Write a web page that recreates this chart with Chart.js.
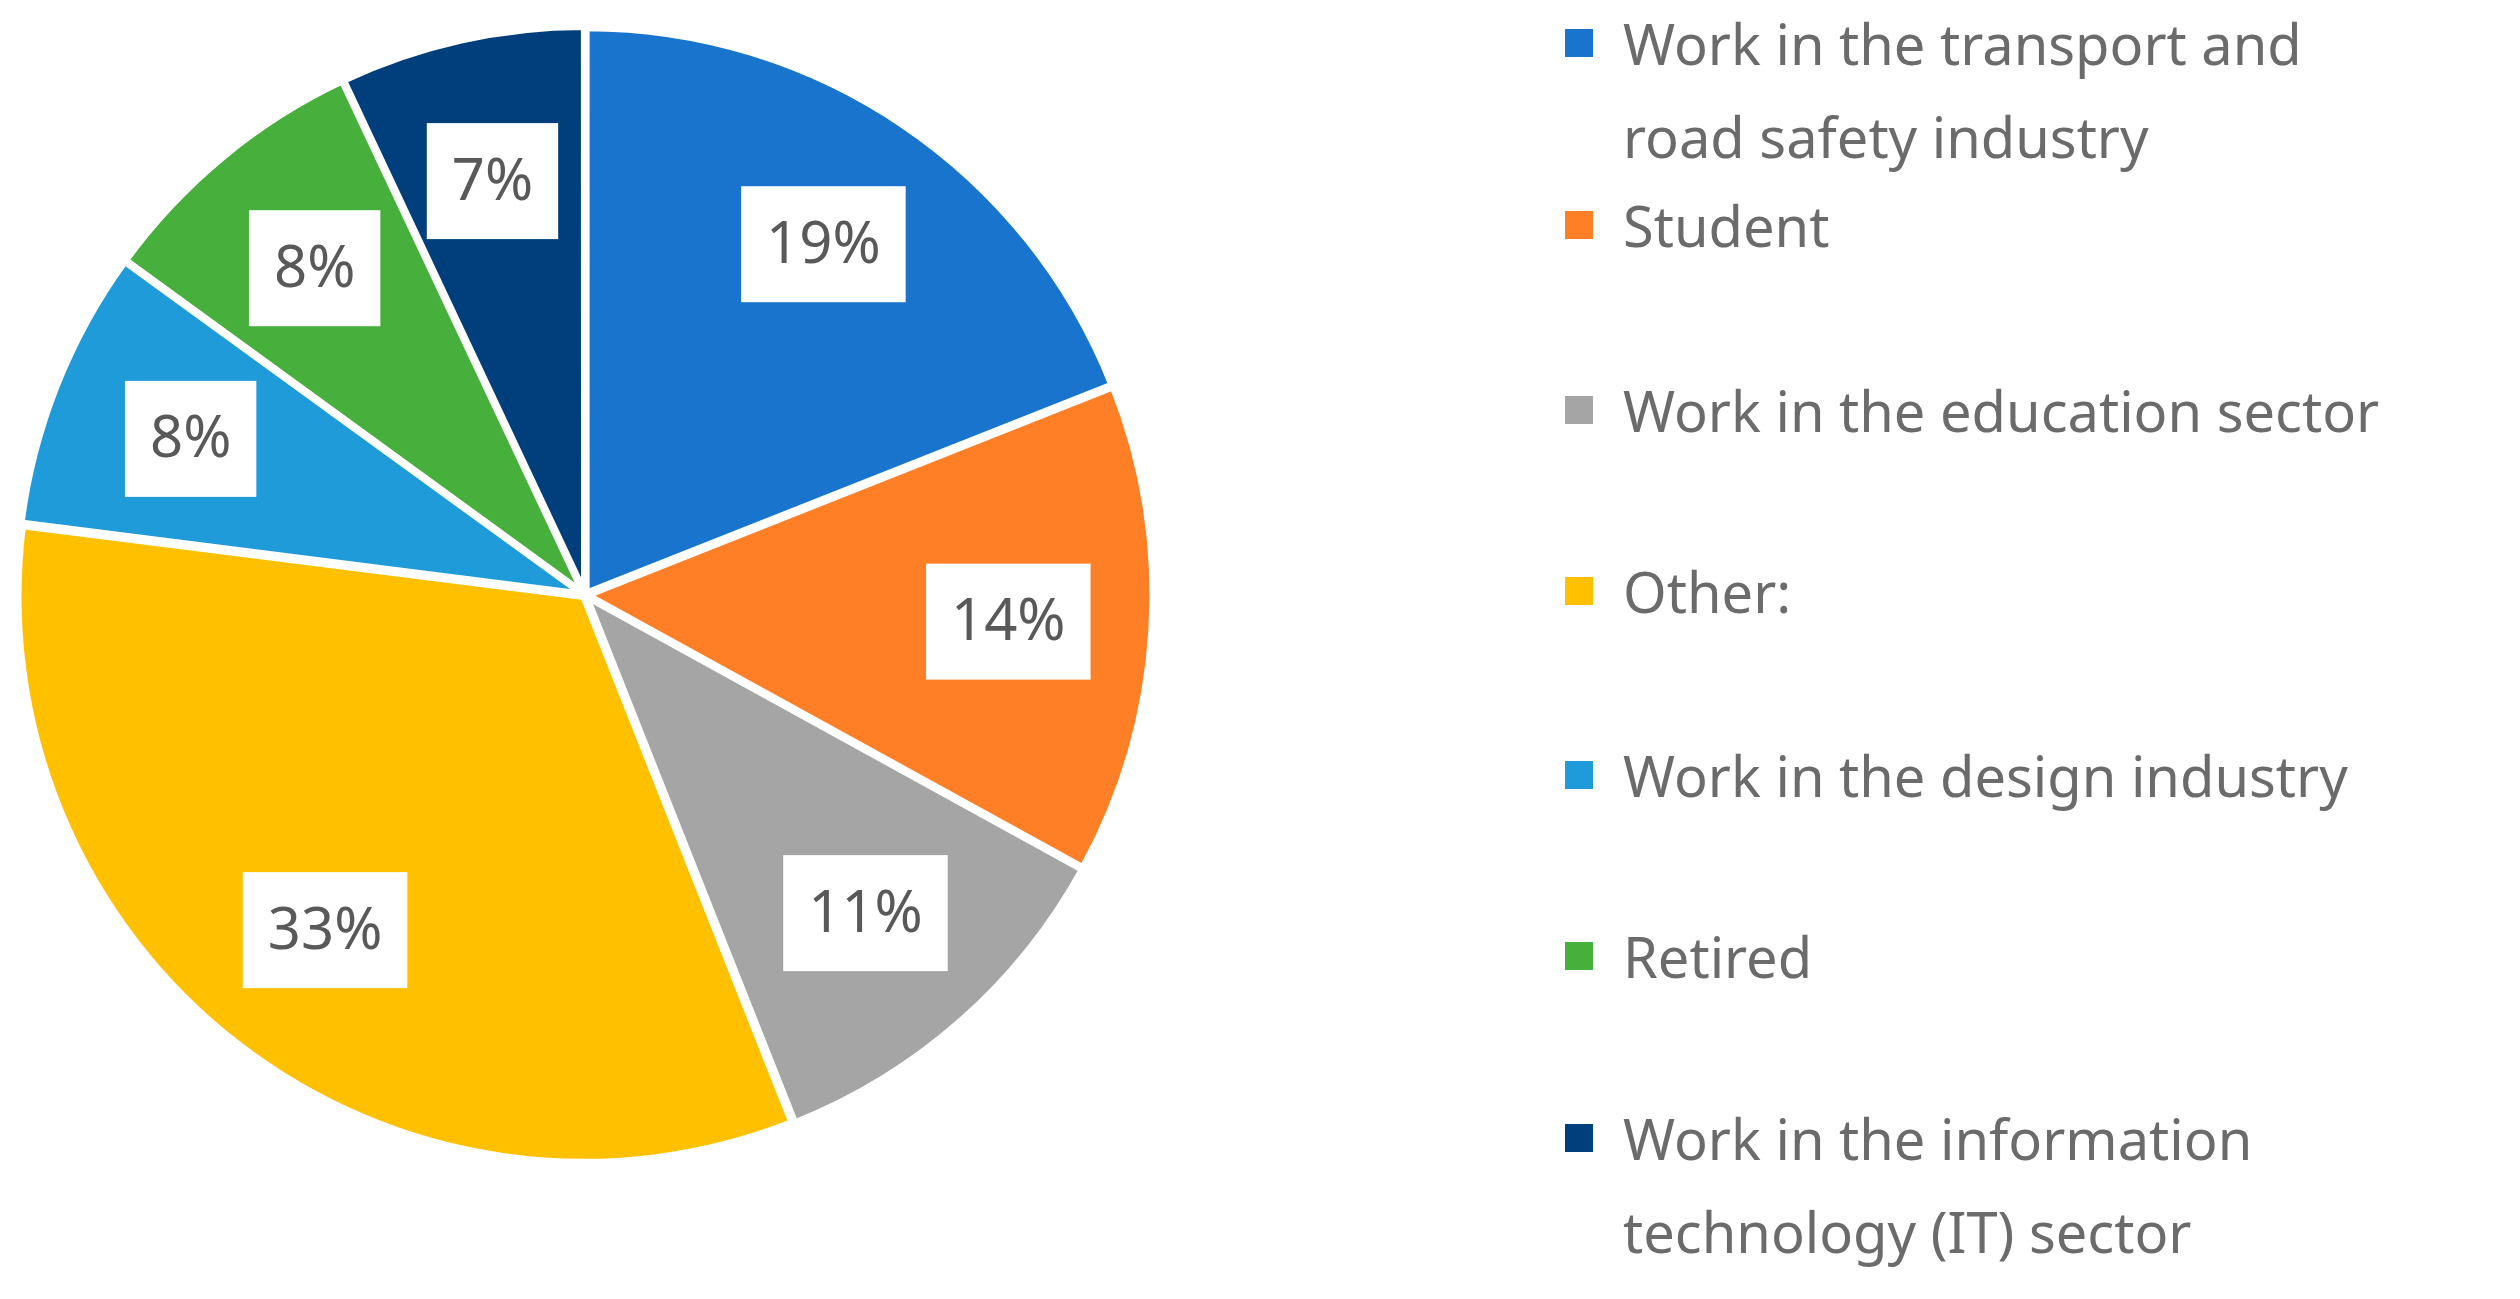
<!DOCTYPE html>
<html>
<head>
<meta charset="utf-8">
<script src="https://cdn.jsdelivr.net/npm/chart.js@4/dist/chart.umd.min.js"></script>
<style>
  body { margin: 0; background: #fff; width: 2520px; height: 1299px; overflow: hidden; position: relative; font-family: "Noto Sans", sans-serif; }
  #wrap { position: absolute; left: 0; top: 0; width: 1170px; height: 1190px; }
  #legend { position: absolute; left: 1565px; top: 0; color: #6b6b6b; font-size: 56px; line-height: 93px; }
  .item { position: absolute; left: 0; white-space: nowrap; }
  .sw { position: absolute; left: 0; top: 32px; width: 28px; height: 28px; }
  .txt { position: absolute; left: 58px; top: 0; }
</style>
</head>
<body>
<div id="wrap"><canvas id="pie"></canvas></div>
<div id="legend"></div>
<script>
const categories = [
  "Work in the transport and\nroad safety industry",
  "Student",
  "Work in the education sector",
  "Other:",
  "Work in the design industry",
  "Retired",
  "Work in the information\ntechnology (IT) sector"
];
const shares = [19, 14, 11, 33, 8, 8, 7];
const colors = ["#1874CD", "#FF7F27", "#A5A5A5", "#FFC000", "#1F9BD9", "#47B03C", "#003F7B"];
const legendTops = [-3, 179, 364, 545, 729, 910, 1092];

const legend = document.getElementById("legend");
categories.forEach((name, i) => {
  const item = document.createElement("div");
  item.className = "item";
  item.style.top = legendTops[i] + "px";
  item.innerHTML = `<div class="sw" style="background:${colors[i]}"></div><div class="txt">${name.replace("\n", "<br>")}</div>`;
  legend.appendChild(item);
});

const boxLabels = {
  id: "boxLabels",
  afterDatasetsDraw(chart) {
    const ctx = chart.ctx;
    const meta = chart.getDatasetMeta(0);
    ctx.save();
    ctx.font = '58px "Noto Sans"';
    ctx.textAlign = "center";
    ctx.textBaseline = "middle";
    meta.data.forEach((arc, i) => {
      const mid = (arc.startAngle + arc.endAngle) / 2;
      const r = arc.outerRadius * 0.75;
      const x = arc.x + Math.cos(mid) * r;
      const y = arc.y + Math.sin(mid) * r;
      const text = shares[i] + "%";
      const w = ctx.measureText(text).width + 50;
      const h = 116;
      ctx.fillStyle = "#fff";
      ctx.fillRect(x - w / 2, y - h / 2, w, h);
      ctx.fillStyle = "#595959";
      ctx.fillText(text, x, y + 2);
    });
    ctx.restore();
  }
};

new Chart(document.getElementById("pie"), {
  type: "pie",
  data: {
    labels: categories,
    datasets: [{
      data: shares,
      backgroundColor: colors,
      borderColor: "#fff",
      borderWidth: 7,
      offset: 8
    }]
  },
  options: {
    responsive: true,
    maintainAspectRatio: false,
    animation: false,
    layout: { padding: 12 },
    plugins: { legend: { display: false }, tooltip: { enabled: false } }
  },
  plugins: [boxLabels]
});
</script>
</body>
</html>
